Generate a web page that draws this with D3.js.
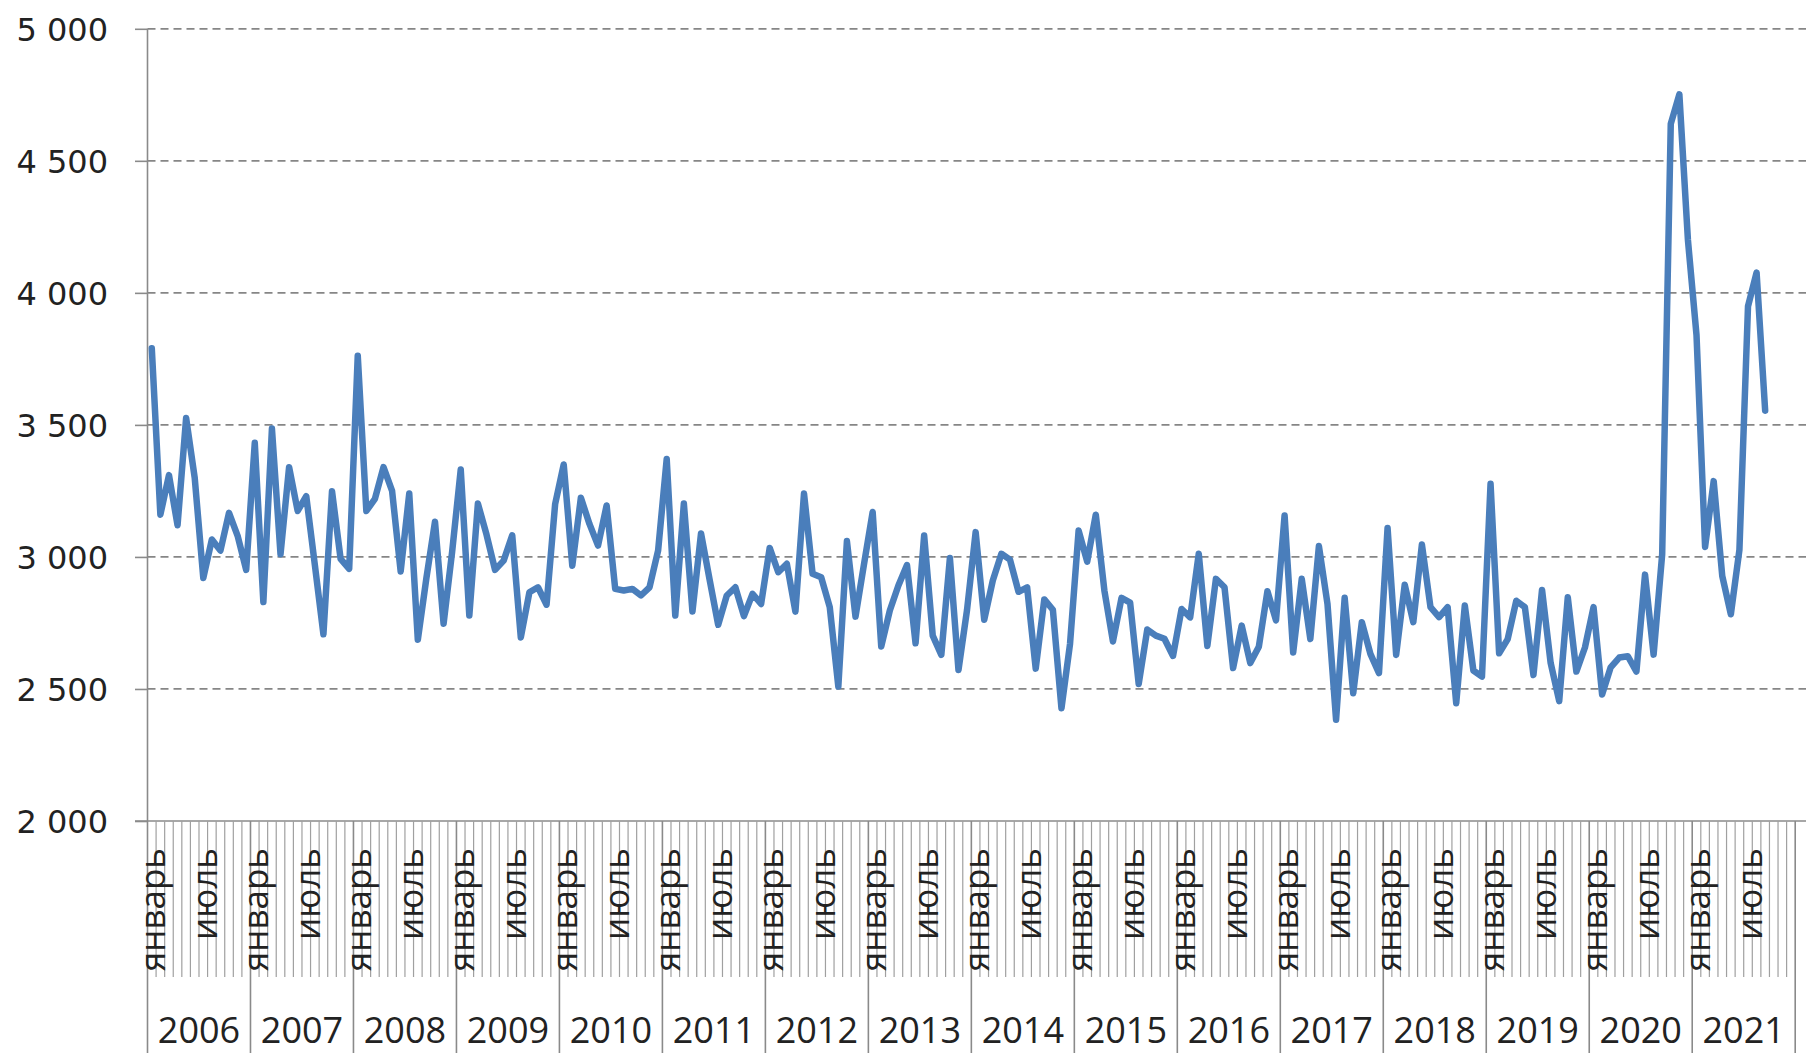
<!DOCTYPE html>
<html>
<head>
<meta charset="utf-8">
<script src="https://cdn.jsdelivr.net/npm/d3@7"></script>
<style>
  html, body { margin: 0; padding: 0; background: #ffffff; }
  svg { display: block; }
</style>
</head>
<body>
<svg id="chart" width="1806" height="1053"></svg>
<script>
// Category axis: every month from January 2006 to December 2021
const years = [2006, 2007, 2008, 2009, 2010, 2011, 2012, 2013, 2014, 2015, 2016, 2017, 2018, 2019, 2020, 2021];
const monthNames = ['январь', 'февраль', 'март', 'апрель', 'май', 'июнь',
                    'июль', 'август', 'сентябрь', 'октябрь', 'ноябрь', 'декабрь'];
const monthLabelStep = 6; // only every sixth month name is printed

// Monthly values, January 2006 – September 2021
const values = [
  3790, 3160, 3310, 3120, 3526, 3300, 2920, 3066, 3024, 3167, 3080, 2951, // 2006
  3432, 2829, 3486, 3010, 3340, 3174, 3230, 2970, 2707, 3249, 2993, 2955, // 2007
  3762, 3174, 3220, 3340, 3250, 2945, 3240, 2686, 2920, 3133, 2747, 3020, // 2008
  3331, 2778, 3202, 3085, 2951, 2986, 3082, 2695, 2866, 2885, 2819, 3200, // 2009
  3350, 2967, 3224, 3125, 3043, 3195, 2879, 2873, 2879, 2854, 2885, 3024, // 2010
  3371, 2778, 3202, 2793, 3089, 2914, 2743, 2854, 2885, 2776, 2860, 2822, // 2011
  3034, 2942, 2974, 2793, 3240, 2936, 2923, 2810, 2509, 3060, 2774, 2974, // 2012
  3170, 2661, 2797, 2892, 2969, 2673, 3081, 2702, 2629, 2996, 2572, 2800, // 2013
  3094, 2762, 2911, 3012, 2990, 2868, 2885, 2577, 2839, 2800, 2427, 2671, // 2014
  3100, 2982, 3160, 2873, 2680, 2845, 2827, 2519, 2725, 2702, 2690, 2625, // 2015
  2803, 2771, 3012, 2663, 2917, 2885, 2579, 2740, 2598, 2660, 2870, 2760, // 2016
  3157, 2638, 2917, 2689, 3041, 2822, 2383, 2845, 2484, 2753, 2633, 2560, // 2017
  3110, 2629, 2895, 2753, 3047, 2810, 2772, 2810, 2446, 2816, 2570, 2547, // 2018
  3277, 2635, 2689, 2834, 2810, 2553, 2875, 2599, 2454, 2847, 2566, 2657, // 2019
  2810, 2479, 2582, 2619, 2624, 2566, 2933, 2630, 3010, 4640, 4752, 4200, // 2020
  3840, 3038, 3287, 2928, 2783, 3027, 3949, 4077, 3554                    // 2021
];

const yTicks = [2000, 2500, 3000, 3500, 4000, 4500, 5000];

// ---- layout ----
const svg = d3.select('#chart');
const W = 1806, H = 1053;
const plotLeft = 147.5, plotRight = 1795.2, gridRight = W;
const plotTop = 28.8, plotBottom = 821;
const tickBottom = 977, yearLineBottom = H;

const categories = [];
years.forEach(yr => monthNames.forEach((m, mi) => categories.push({ year: yr, month: m, mi })));

const x = d3.scaleBand().domain(d3.range(categories.length)).range([plotLeft, plotRight]).paddingInner(0).paddingOuter(0);
const bw = x.bandwidth();
const y = d3.scaleLinear().domain([2000, 5000]).range([plotBottom, plotTop]);

const axisColor = '#8a8a8a';
const textColor = '#222222';

// ---- horizontal gridlines ----
const grid = svg.append('g');
grid.selectAll('line.grid')
  .data(yTicks.filter(t => t !== 2000))
  .join('line')
  .attr('x1', plotLeft).attr('x2', gridRight)
  .attr('y1', d => y(d)).attr('y2', d => y(d))
  .attr('stroke', '#868686')
  .attr('stroke-width', 1.8)
  .attr('stroke-dasharray', '8,5');

// ---- value axis ----
const ru = d3.formatLocale({ decimal: ',', thousands: '\u00a0', grouping: [3], currency: ['', ''] });
const fmt = ru.format(',');
const yAxis = svg.append('g')
  .attr('transform', `translate(${plotLeft},0)`)
  .call(d3.axisLeft(y).tickValues(yTicks).tickSize(12.5).tickPadding(27).tickFormat(fmt));
yAxis.select('.domain').remove();
yAxis.selectAll('.tick line').attr('stroke', axisColor).attr('stroke-width', 1.6);
yAxis.selectAll('.tick text')
  .attr('fill', textColor)
  .attr('font-family', '"DejaVu Sans", sans-serif')
  .attr('font-size', 32)
  .attr('dy', '0.36em');

// vertical axis line, running down through the category label area
svg.append('line')
  .attr('x1', plotLeft).attr('x2', plotLeft)
  .attr('y1', plotTop).attr('y2', yearLineBottom)
  .attr('stroke', axisColor).attr('stroke-width', 1.6);

// ---- category axis ----
svg.append('line')
  .attr('x1', plotLeft - 12.5).attr('x2', gridRight)
  .attr('y1', plotBottom).attr('y2', plotBottom)
  .attr('stroke', axisColor).attr('stroke-width', 1.6);

// month separators (short) and year separators (long)
const boundaries = d3.range(1, categories.length + 1);
svg.append('g').selectAll('line')
  .data(boundaries)
  .join('line')
  .attr('x1', k => plotLeft + k * bw).attr('x2', k => plotLeft + k * bw)
  .attr('y1', plotBottom)
  .attr('y2', k => (k % 12 === 0 ? yearLineBottom : tickBottom))
  .attr('stroke', k => (k % 12 === 0 ? axisColor : '#a0a0a0'))
  .attr('stroke-width', k => (k % 12 === 0 ? 1.6 : 1.2));

// rotated month names
svg.append('g').selectAll('text')
  .data(categories.map((c, i) => ({ ...c, i })).filter(c => c.mi % monthLabelStep === 0))
  .join('text')
  .attr('transform', d => `translate(${x(d.i) + bw / 2 + 13.5},848) rotate(-90)`)
  .attr('text-anchor', 'end')
  .attr('fill', textColor)
  .attr('font-family', '"Open Sans", "Noto Sans", sans-serif')
  .attr('font-size', 35)
  .text(d => d.month);

// year labels centred under each year
svg.append('g').selectAll('text')
  .data(years)
  .join('text')
  .attr('x', (yr, j) => plotLeft + (j * 12 + 6) * bw)
  .attr('y', 1043)
  .attr('text-anchor', 'middle')
  .attr('fill', textColor)
  .attr('font-family', '"Open Sans", "Noto Sans", sans-serif')
  .attr('font-size', 36)
  .text(d => d);

// ---- data line ----
const line = d3.line()
  .x((v, i) => x(i) + bw / 2)
  .y(v => y(v));

svg.append('path')
  .datum(values)
  .attr('d', line)
  .attr('fill', 'none')
  .attr('stroke', '#4a7ebb')
  .attr('stroke-width', 6.5)
  .attr('stroke-linejoin', 'round')
  .attr('stroke-linecap', 'round');
</script>
</body>
</html>
